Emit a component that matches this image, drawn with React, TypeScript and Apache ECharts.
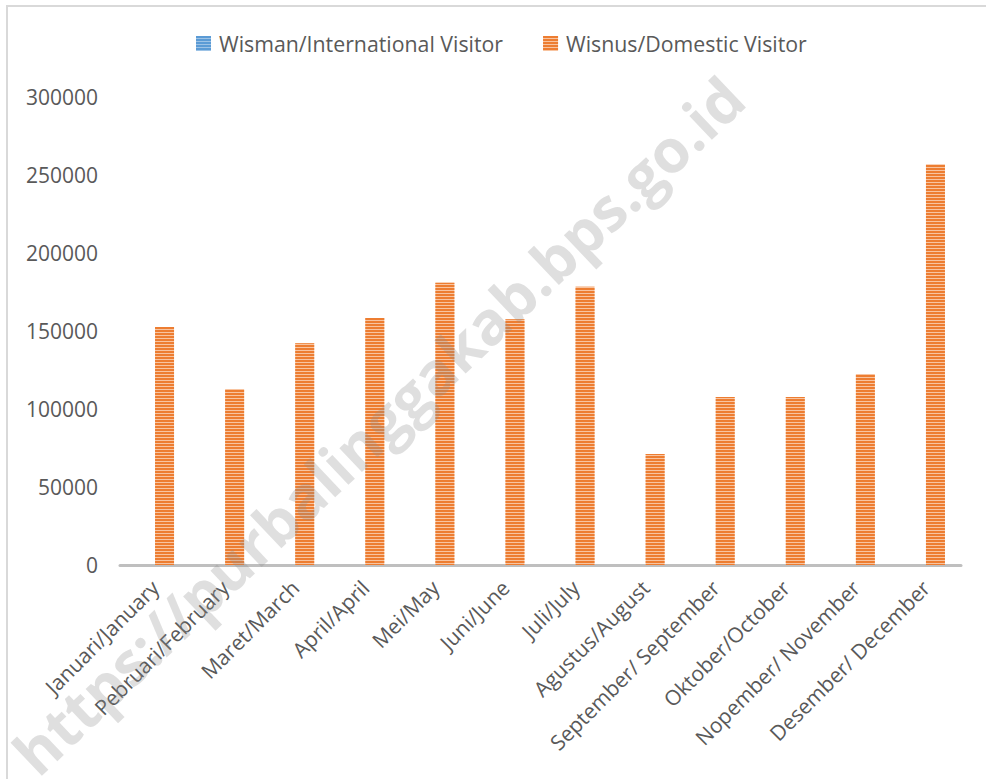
import React, { useEffect, useRef } from "react";
import * as echarts from "echarts";

const categories = [
  "Januari/January",
  "Pebruari/February",
  "Maret/March",
  "April/April",
  "Mei/May",
  "Juni/June",
  "Juli/July",
  "Agustus/August",
  "September/ September",
  "Oktober/October",
  "Nopember/ November",
  "Desember/ December",
];
const wismanValues = [0, 0, 0, 0, 0, 0, 0, 0, 0, 0, 0, 0];
const wisnusValues = [152600, 112800, 142100, 158300, 180900, 157500, 178400, 71200, 107700, 107700, 122400, 256900];
const seriesNames = ["Wisman/International Visitor", "Wisnus/Domestic Visitor"];

const FONT = "Open Sans";

export default function App() {
  const ref = useRef<HTMLDivElement>(null);
  useEffect(() => {
    if (!ref.current) return;
    const chart = echarts.init(ref.current, undefined, { renderer: "svg" });
    const stripe = (base: string, line: string) => ({
      color: base,
      decal: {
        symbol: "rect",
        symbolSize: 1,
        dashArrayX: [1, 0],
        dashArrayY: [2, 1],
        rotation: 0,
        color: line,
      },
    });
    chart.setOption({
      animation: false,
      backgroundColor: "#ffffff",
      textStyle: { fontFamily: FONT },
      legend: {
        top: 28,
        left: 191,
        itemWidth: 15,
        itemHeight: 15,
        itemGap: 40,
        icon: "rect",
        textStyle: {
          fontSize: 21.3,
          color: "#595959",
          fontFamily: FONT,
          padding: [0, 0, 0, 3],
        },
        data: seriesNames,
      },
      grid: { left: 120, right: 25, top: 97, bottom: 214, containLabel: false },
      xAxis: {
        type: "category",
        data: categories,
        axisLine: { show: true, lineStyle: { color: "#BFBFBF", width: 3 } },
        axisTick: { show: false },
        axisLabel: {
          rotate: 45,
          interval: 0,
          fontSize: 21,
          color: "#595959",
          fontFamily: FONT,
          margin: 19,
        },
      },
      yAxis: {
        type: "value",
        min: 0,
        max: 300000,
        interval: 50000,
        axisLine: { show: false },
        axisTick: { show: false },
        splitLine: { show: false },
        axisLabel: {
          fontSize: 21,
          color: "#595959",
          fontFamily: FONT,
          margin: 22,
          formatter: (v: number) => String(v),
        },
      },
      series: [
        {
          name: seriesNames[0],
          type: "bar",
          data: wismanValues,
          barWidth: 19,
          barGap: "0%",
          itemStyle: stripe("#9DC3E6", "#5B9BD5"),
        },
        {
          name: seriesNames[1],
          type: "bar",
          data: wisnusValues,
          barWidth: 19,
          barGap: "0%",
          itemStyle: stripe("#F8C4A0", "#ED7D31"),
        },
      ],
      graphic: [
        {
          type: "rect",
          shape: { x: 7, y: 6, width: 1200, height: 1200 },
          style: { fill: "none", stroke: "#D9D9D9", lineWidth: 2 },
          silent: true,
          z: 100,
        },
        {
          type: "text",
          x: 378,
          y: 425,
          rotation: (43.5 * Math.PI) / 180,
          style: {
            text: "https://purbalinggakab.bps.go.id",
            font: 'bold 60px "Open Sans"',
            fill: "rgba(140,140,140,0.28)",
            align: "center",
            verticalAlign: "middle",
          },
          silent: true,
          z: 100,
        },
      ],
    });
    return () => chart.dispose();
  }, []);
  return (
    <div
      ref={ref}
      style={{ position: "fixed", left: 0, top: 0, width: 986, height: 779 }}
    />
  );
}
